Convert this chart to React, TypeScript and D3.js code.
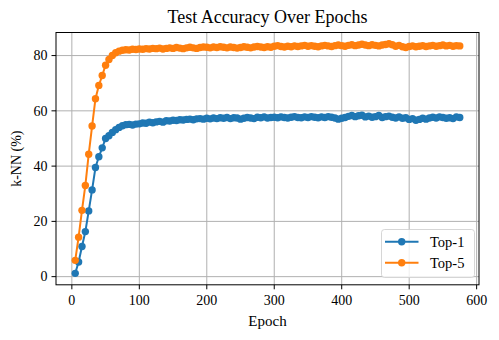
import React from "react";
import * as d3 from "d3";

const epochs = [
  5, 10, 15, 20, 25, 30, 35, 40, 45, 50, 55, 60, 65, 70, 75, 80, 85, 90, 95, 100,
  105, 110, 115, 120, 125, 130, 135, 140, 145, 150, 155, 160, 165, 170, 175, 180, 185, 190, 195, 200,
  205, 210, 215, 220, 225, 230, 235, 240, 245, 250, 255, 260, 265, 270, 275, 280, 285, 290, 295, 300,
  305, 310, 315, 320, 325, 330, 335, 340, 345, 350, 355, 360, 365, 370, 375, 380, 385, 390, 395, 400,
  405, 410, 415, 420, 425, 430, 435, 440, 445, 450, 455, 460, 465, 470, 475, 480, 485, 490, 495, 500,
  505, 510, 515, 520, 525, 530, 535, 540, 545, 550, 555, 560, 565, 570, 575,
];

const top1 = [
  1.2, 5.3, 10.9, 16.3, 23.8, 31.4, 39.5, 43.4, 46.6, 50.0, 51.0, 52.2, 53.2, 54.0, 54.6, 55.0, 55.1, 54.9, 55.2, 55.3,
  55.6, 55.5, 55.9, 55.7, 56.0, 56.2, 55.9, 56.4, 56.3, 56.6, 56.5, 56.8, 56.7, 56.9, 57.0, 56.8, 57.1, 57.2, 57.0, 57.3,
  57.1, 57.4, 57.2, 57.5, 57.3, 57.6, 57.2, 57.5, 57.4, 57.0, 57.3, 57.6, 57.4, 57.2, 57.7, 57.5, 57.8, 57.4, 57.6, 57.7,
  57.5, 57.8, 57.6, 57.4, 57.7, 57.9, 57.6, 57.5, 57.8, 57.6, 57.9, 57.7, 57.5, 57.8, 57.6, 57.9, 57.7, 57.4, 57.0, 57.3,
  57.6, 58.0, 58.3, 57.9, 58.2, 58.4, 57.8, 58.1, 57.7, 57.9, 58.3, 57.6, 57.9, 58.1, 57.7, 57.4, 57.8, 57.3, 57.5, 56.9,
  57.2, 56.6, 56.9, 57.3, 57.0, 57.4, 57.7, 57.4, 57.8, 57.6, 57.3, 57.5, 57.2, 57.8, 57.6,
];

const top5 = [
  5.9, 14.3, 24.0, 33.0, 44.3, 54.5, 64.4, 69.2, 72.8, 76.5, 78.6, 80.0, 81.0, 81.6, 81.9, 82.1, 82.0, 82.3, 82.2, 82.4,
  82.3, 82.5, 82.4, 82.6, 82.5, 82.7, 82.4, 82.6, 82.8, 82.6, 82.9, 82.7, 82.5, 82.8, 83.0, 82.8, 82.6, 82.9, 83.1, 83.0,
  82.8, 83.1, 82.9, 83.2, 83.0, 82.8, 83.1, 82.9, 82.7, 82.9, 83.2, 83.0, 82.8, 83.1, 83.3, 83.1, 82.9, 83.2, 83.0, 83.4,
  83.6, 83.3, 83.1, 83.4, 83.2, 83.5, 83.3, 83.5, 83.7, 83.4, 83.6, 83.4, 83.2, 83.5, 83.7, 83.5, 83.3, 83.6, 83.8, 83.6,
  83.4, 83.7, 83.9, 83.6, 83.8, 84.1, 83.8, 83.6, 83.9, 83.7, 83.5, 83.8, 84.0, 84.3, 83.9, 83.4, 83.7, 83.2, 82.9, 83.3,
  83.5, 83.2, 83.4, 83.6, 83.3, 83.5, 83.7, 83.4, 83.6, 83.8, 83.5, 83.7, 83.4, 83.6, 83.5,
];

const xTicks = [0, 100, 200, 300, 400, 500, 600];
const yTicks = [0, 20, 40, 60, 80];
const seriesNames = ["Top-1", "Top-5"];
const seriesColors = ["#1f77b4", "#ff7f0e"];
const title = "Test Accuracy Over Epochs";
const xLabel = "Epoch";
const yLabel = "k-NN (%)";

const W = 499;
const H = 340;
const L = 56, R = 479, T = 32.5, B = 284.8;
const FONT = "'Liberation Serif', 'Times New Roman', serif";

export default function App() {
  const x = d3.scaleLinear().domain([-23.5, 603.5]).range([L, R]);
  const y = d3.scaleLinear().domain([-2.95, 88.35]).range([B, T]);
  const series = [top1, top5];
  const line = d3
    .line<[number, number]>()
    .x((d) => x(d[0]))
    .y((d) => y(d[1]));

  return (
    <svg width={W} height={H} style={{ position: "absolute", left: 0, top: 0, background: "#fff" }}>
      <rect x={0} y={0} width={W} height={H} fill="#fff" />
      {xTicks.map((t) => (
        <line key={"gx" + t} x1={x(t)} x2={x(t)} y1={T} y2={B} stroke="#b0b0b0" strokeWidth={1} />
      ))}
      {yTicks.map((t) => (
        <line key={"gy" + t} x1={L} x2={R} y1={y(t)} y2={y(t)} stroke="#b0b0b0" strokeWidth={1} />
      ))}
      {series.map((s, i) => {
        const pts = epochs.map((e, j) => [e, s[j]] as [number, number]);
        return (
          <g key={"s" + i}>
            <path d={line(pts) || ""} fill="none" stroke={seriesColors[i]} strokeWidth={2} />
            {pts.map((p, j) => (
              <circle key={j} cx={x(p[0])} cy={y(p[1])} r={3.7} fill={seriesColors[i]} />
            ))}
          </g>
        );
      })}
      <rect x={L} y={T} width={R - L} height={B - T} fill="none" stroke="#000" strokeWidth={1} />
      {xTicks.map((t) => (
        <g key={"xt" + t}>
          <line x1={x(t)} x2={x(t)} y1={B} y2={B + 4.5} stroke="#000" strokeWidth={1} />
          <text x={x(t)} y={B + 20.5} textAnchor="middle" fontFamily={FONT} fontSize={14} fill="#000">
            {t}
          </text>
        </g>
      ))}
      {yTicks.map((t) => (
        <g key={"yt" + t}>
          <line x1={L - 4.5} x2={L} y1={y(t)} y2={y(t)} stroke="#000" strokeWidth={1} />
          <text x={L - 8.5} y={y(t)} dy="0.34em" textAnchor="end" fontFamily={FONT} fontSize={14} fill="#000">
            {t}
          </text>
        </g>
      ))}
      <text x={(L + R) / 2} y={325.5} textAnchor="middle" fontFamily={FONT} fontSize={15} fill="#000">
        {xLabel}
      </text>
      <text
        transform={`translate(21,${(T + B) / 2}) rotate(-90)`}
        textAnchor="middle"
        fontFamily={FONT}
        fontSize={14}
        fill="#000"
      >
        {yLabel}
      </text>
      <text x={(L + R) / 2} y={23.3} textAnchor="middle" fontFamily={FONT} fontSize={18} fill="#000">
        {title}
      </text>
      <g>
        <rect
          x={381.5}
          y={229.5}
          width={93}
          height={48}
          rx={3}
          fill="#fff"
          fillOpacity={0.8}
          stroke="#cccccc"
          strokeOpacity={0.8}
          strokeWidth={1}
        />
        {seriesNames.map((n, i) => {
          const ly = 241.7 + i * 21;
          return (
            <g key={"lg" + i}>
              <line x1={385} x2={418.5} y1={ly} y2={ly} stroke={seriesColors[i]} strokeWidth={2} />
              <circle cx={401.7} cy={ly} r={3.7} fill={seriesColors[i]} />
              <text x={430} y={ly} dy="0.34em" fontFamily={FONT} fontSize={14.5} fill="#000">
                {n}
              </text>
            </g>
          );
        })}
      </g>
    </svg>
  );
}
